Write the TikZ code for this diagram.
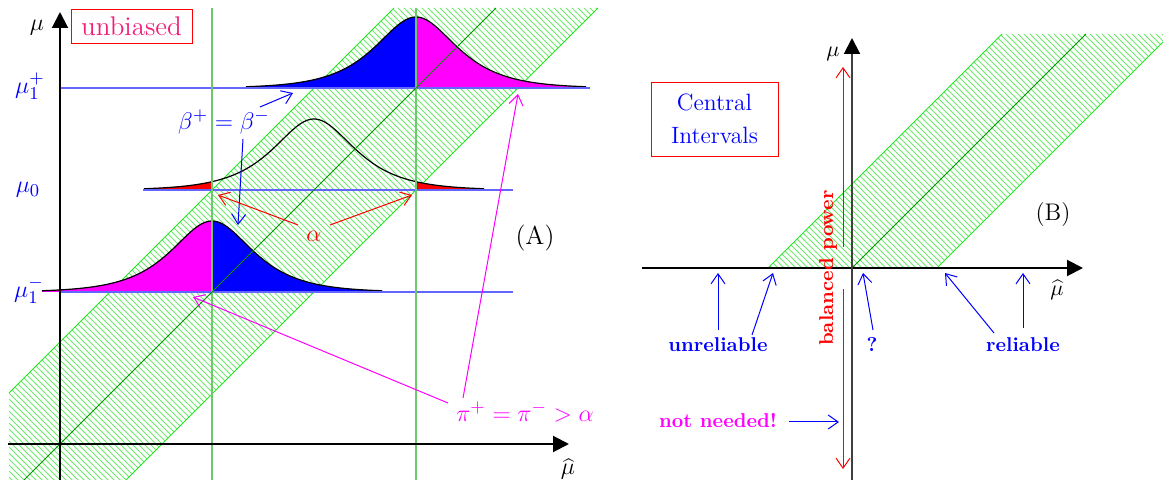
\documentclass[tikz,border=0pt]{standalone}
\usetikzlibrary{patterns,arrows.meta}
\definecolor{lblue}{RGB}{100,100,255}
\definecolor{vgreen}{RGB}{110,200,110}
\definecolor{dgreen}{RGB}{10,140,10}
\definecolor{bgreen}{RGB}{40,230,40}
\definecolor{hgreen}{RGB}{110,235,110}
\definecolor{pinkred}{RGB}{240,30,120}
\definecolor{mag}{RGB}{255,0,255}
\definecolor{pblue}{RGB}{0,0,255}
\definecolor{pred}{RGB}{255,0,0}
\begin{document}
\begin{tikzpicture}[x=0.5pt,y=-0.5pt,
  ann/.style={-{Straight Barb[length=5pt,width=7pt]},line width=0.5pt},
  axis/.style={line width=1pt,-{Triangle[length=8pt,width=8pt]}},
  lev/.style={lblue,line width=1pt},
  vert/.style={vgreen,line width=1pt},
  diag/.style={dgreen,line width=0.5pt},
  bedge/.style={bgreen,line width=0.5pt},
  hatch/.style={pattern=north west lines,pattern color=hgreen},
  curve/.style={black,line width=0.6pt},
  lbl/.style={font=\fontsize{13}{15}\selectfont},
  bl/.style={font=\bfseries,text=pblue}
]
\useasboundingbox (0,0) rectangle (1163,480);
% ---------------- left panel ----------------
\begin{scope}
\clip (9,8) rectangle (600,480);
\fill[hatch] (-78,480) -- (126,480) -- (598,8) -- (394,8) -- cycle;
\end{scope}
\draw[bedge] (9,393) -- (394,8);
\draw[bedge] (126,480) -- (598,8);
% mu1+ curve
\fill[pblue] (246,88) -- plot[domain=-170:0,samples=60] ({416+\x},{88-142/(exp(\x/36)+exp(-\x/36))}) -- (416,88) -- cycle;
\fill[mag] (416,88) -- plot[domain=0:170,samples=60] ({416+\x},{88-142/(exp(\x/36)+exp(-\x/36))}) -- (586,88) -- cycle;
\draw[curve] plot[domain=-170:170,samples=120] ({416+\x},{88-142/(exp(\x/36)+exp(-\x/36))});
% mu0 curve
\fill[pred] (144,190) -- plot[domain=-170:-102,samples=30] ({314+\x},{190-142/(exp(\x/36)+exp(-\x/36))}) -- (212,190) -- cycle;
\fill[pred] (416,190) -- plot[domain=102:170,samples=30] ({314+\x},{190-142/(exp(\x/36)+exp(-\x/36))}) -- (484,190) -- cycle;
\draw[curve] plot[domain=-170:170,samples=120] ({314+\x},{190-142/(exp(\x/36)+exp(-\x/36))});
% mu1- curve
\fill[mag] (42,292) -- plot[domain=-170:0,samples=60] ({212+\x},{292-142/(exp(\x/36)+exp(-\x/36))}) -- (212,292) -- cycle;
\fill[pblue] (212,292) -- plot[domain=0:170,samples=60] ({212+\x},{292-142/(exp(\x/36)+exp(-\x/36))}) -- (382,292) -- cycle;
\draw[curve] plot[domain=-170:170,samples=120] ({212+\x},{292-142/(exp(\x/36)+exp(-\x/36))});
% lines
\draw[lev] (60,88) -- (590,88);
\draw[lev] (143,190) -- (513,190);
\draw[lev] (60,292) -- (513,292);
\draw[vert] (212,8) -- (212,480);
\draw[vert] (416,8) -- (416,480);
\draw[diag] (24,480) -- (496,8);
\draw[axis] (60,480) -- (60,12);
\draw[axis] (8,444) -- (569,444);
% labels
\node[lbl] (mu) at (37,28) {$\mu$};
\node[lbl,draw=pred,text=pinkred,minimum width=60.5pt,minimum height=17pt,inner sep=0pt,font=\fontsize{13.5}{15}\selectfont] (unb) at (131.5,26) {unbiased};
\node[lbl,text=pblue] (mup) at (30,86) {$\mu_1^+$};
\node[lbl,text=pblue] (mu0) at (28,190) {$\mu_0$};
\node[lbl,text=pblue] (mum) at (29,290) {$\mu_1^-$};
\node[lbl,text=pblue] (beta) at (224,122) {$\beta^+=\beta^-$};
\node[lbl,text=pred] (alpha) at (314,236) {$\alpha$};
\node[lbl,text=mag] (pi) at (525,412) {$\pi^+=\pi^->\alpha$};
\node[lbl] (A) at (535,238) {(A)};
\node[lbl,inner sep=1pt] (muh) at (568,469) {$\widehat{\mu}$};
% arrows
\coordinate (b1s) at (260,107); \coordinate (b1e) at (293,93);
\coordinate (b2s) at (243,139); \coordinate (b2e) at (238,225);
\coordinate (a1s) at (298,225); \coordinate (a1e) at (218,195);
\coordinate (a2s) at (330,225); \coordinate (a2e) at (412,195);
\coordinate (p1s) at (463,398); \coordinate (p1e) at (518,94);
\coordinate (p2s) at (448,403); \coordinate (p2e) at (193,297);
\draw[ann,pblue] (b1s) -- (b1e);
\draw[ann,pblue] (b2s) -- (b2e);
\draw[ann,pred] (a1s) -- (a1e);
\draw[ann,pred] (a2s) -- (a2e);
\draw[ann,mag] (p1s) -- (p1e);
\draw[ann,mag] (p2s) -- (p2e);
% ---------------- right panel ----------------
\begin{scope}
\clip (642,30) rectangle (1163,268);
\fill[hatch] (768,268) -- (937,268) -- (1171,34) -- (1002,34) -- cycle;
\end{scope}
\draw[bedge] (768,268) -- (1002,34);
\draw[bedge] (937,268) -- (1163,42);
\draw[diag] (852,268) -- (1086,34);
\draw[axis] (642,268) -- (1083,268);
\draw[line width=1pt,black!75] (852,480) -- (852,50);
\draw[axis] (852,52) -- (852,38);
\node[font=\fontsize{11}{13}\selectfont] (muR) at (833,54) {$\mu$};
\node[font=\fontsize{11}{13}\selectfont,inner sep=1pt] (muhR) at (1057,290) {$\widehat{\mu}$};
\node[draw=pred,text=pblue,minimum width=63.5pt,minimum height=37pt,align=center,inner sep=0pt,font=\fontsize{11.8}{16.5}\selectfont] (ci) at (714.5,119) {Central\\Intervals};
\node[font=\fontsize{12}{14}\selectfont] (B) at (1053,215) {(B)};
\node[rotate=90,text=pred,font=\bfseries] (bp) at (828,268) {balanced power};
\node[bl] (unr) at (718,345) {unreliable};
\node[bl] (q) at (872,345) {?};
\node[bl] (rel) at (1023,345) {reliable};
\node[font=\bfseries,text=mag] (nn) at (718,421) {not needed!};
\coordinate (r1s) at (843,247); \coordinate (r1e) at (843,67);
\coordinate (r2s) at (843,289); \coordinate (r2e) at (843,469);
\coordinate (u1s) at (718,330); \coordinate (u1e) at (718,273);
\coordinate (u2s) at (752,335); \coordinate (u2e) at (773,273);
\coordinate (q1s) at (873,330); \coordinate (q1e) at (863,273);
\coordinate (l1s) at (994,333); \coordinate (l1e) at (945,273);
\coordinate (l2s) at (1023,328); \coordinate (l2e) at (1023,273);
\coordinate (n1s) at (789,422); \coordinate (n1e) at (839,422);
\draw[ann,pred] (r1s) -- (r1e);
\draw[ann,pred] (r2s) -- (r2e);
\draw[ann,pblue] (u1s) -- (u1e);
\draw[ann,pblue] (u2s) -- (u2e);
\draw[ann,pblue] (q1s) -- (q1e);
\draw[ann,pblue] (l1s) -- (l1e);
\draw[ann,pblue] (l2s) -- (l2e);
\draw[ann,pblue] (n1s) -- (n1e);
\end{tikzpicture}
\end{document}
